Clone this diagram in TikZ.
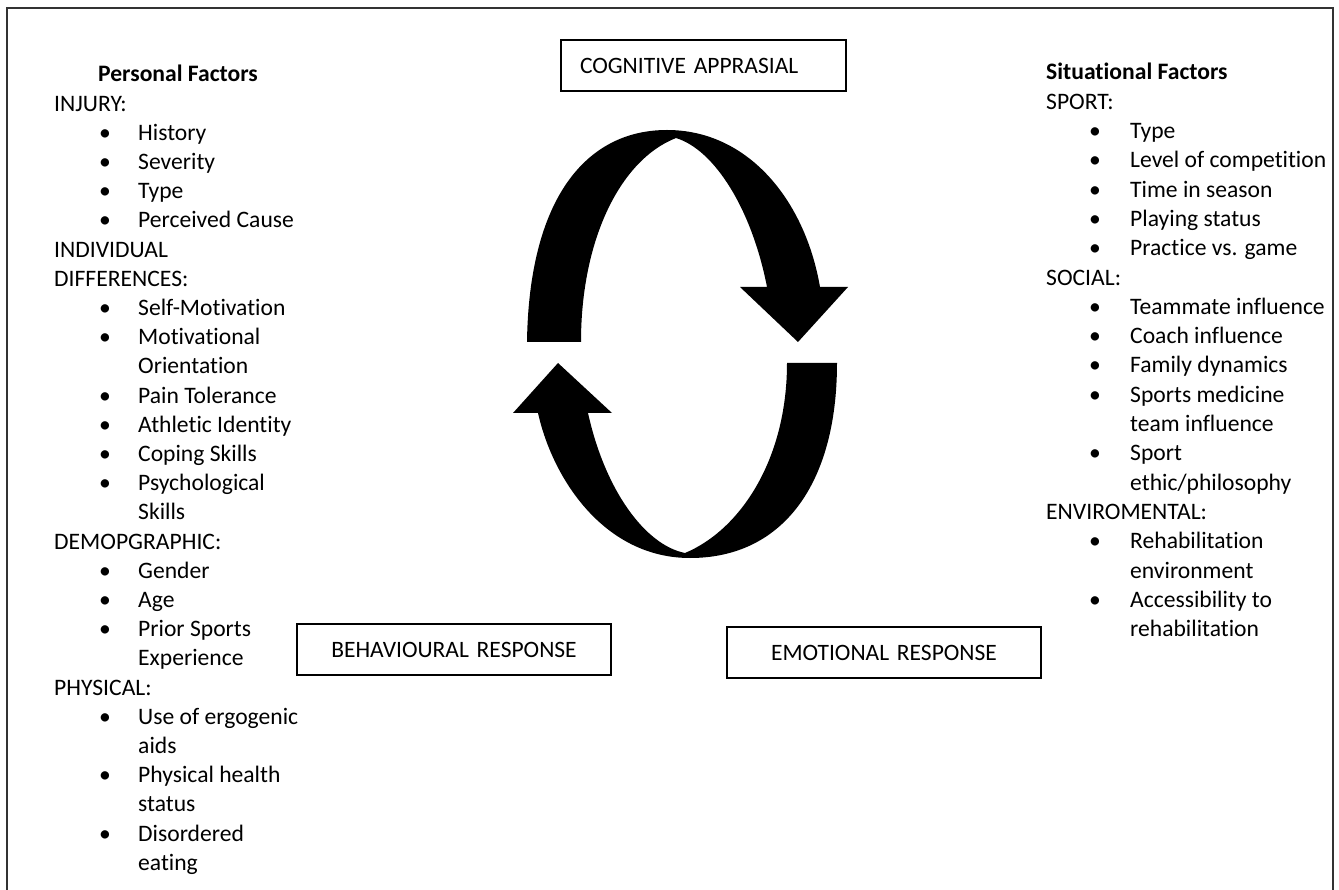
\documentclass[tikz,border=0pt]{standalone}
\usepackage{fontspec}
\setmainfont{Carlito}[Ligatures=NoCommon]
\usepackage{array}
\tikzset{
	frame/.style={line width=1.6pt, color=black!80},
	stagebox/.style={draw, line width=1.4pt, inner sep=0pt, minimum height=51pt, font=\fontsize{23.5}{27}\selectfont},
	factors/.style={anchor=base west, inner sep=0pt, font=\fontsize{23.6}{29.2}\selectfont},
	cyclearrow/.style={fill=black, draw=none},
}
\newcommand{\hd}[1]{\multicolumn{3}{@{}l@{}}{#1}}
\newcommand{\bl}{\textbullet}

\begin{document}
\begin{tikzpicture}[x=1pt, y=-1pt]
		%%%%% START %%%%%
		\useasboundingbox (0, 0) rectangle (1339, 890);
		
		\draw[frame] (7, 890) -- (7, 8) -- (1333, 8) -- (1333, 890);
		
		% stages
		\node[stagebox, text width=285pt, align=left] (cognitive) at (703.5, 65.5) {\hspace*{19pt}COGNITIVE APPRASIAL};
		\node[stagebox, text width=314pt, align=center] (behaviour) at (454, 649.5) {BEHAVIOURAL RESPONSE};
		\node[stagebox, text width=314pt, align=center] (emotion) at (884, 652.5) {EMOTIONAL RESPONSE};
		
		% cycle
		\fill[cyclearrow] (527, 342) .. controls (529, 200) and (585, 130) .. (667, 130)
			.. controls (748, 130) and (805, 200) .. (820, 287) -- (848, 287) -- (798, 342) -- (740, 287) -- (767, 287)
			.. controls (752, 210) and (715, 150) .. (676, 138)
			.. controls (620, 160) and (581, 240) .. (581, 342) -- cycle;
		\fill[cyclearrow] (837, 363) .. controls (837, 485) and (782, 558) .. (690, 558)
			.. controls (605, 558) and (553, 480) .. (538, 413) -- (513, 413) -- (558, 363) -- (612, 413) -- (588, 413)
			.. controls (605, 490) and (645, 545) .. (685, 553)
			.. controls (740, 530) and (787, 460) .. (787, 363) -- cycle;
		
		% personal factors
		\node[factors] (personal) at (54, 82) {\begin{tabular}[t]{@{}p{45pt}@{}p{39pt}@{}l@{}}
			\hd{\hspace*{44pt}\textbf{Personal Factors}}\\
			\hd{INJURY:}\\
			& \bl & History\\
			& \bl & Severity\\
			& \bl & Type\\
			& \bl & Perceived Cause\\
			\hd{INDIVIDUAL}\\
			\hd{DIFFERENCES:}\\
			& \bl & Self-Motivation\\
			& \bl & Motivational\\
			& & Orientation\\
			& \bl & Pain Tolerance\\
			& \bl & Athletic Identity\\
			& \bl & Coping Skills\\
			& \bl & Psychological\\
			& & Skills\\
			\hd{DEMOPGRAPHIC:}\\
			& \bl & Gender\\
			& \bl & Age\\
			& \bl & Prior Sports\\
			& & Experience\\
			\hd{PHYSICAL:}\\
			& \bl & Use of ergogenic\\
			& & aids\\
			& \bl & Physical health\\
			& & status\\
			& \bl & Disordered\\
			& & eating
		\end{tabular}};
		
		% situational factors
		\node[factors, font=\fontsize{23.6}{29.3}\selectfont] (situational) at (1046, 80) {\begin{tabular}[t]{@{}p{43pt}@{}p{41pt}@{}l@{}}
			\hd{\textbf{Situational Factors}}\\
			\hd{SPORT:}\\
			& \bl & Type\\
			& \bl & Level of competition\\
			& \bl & Time in season\\
			& \bl & Playing status\\
			& \bl & Practice vs. game\\
			\hd{SOCIAL:}\\
			& \bl & Teammate influence\\
			& \bl & Coach influence\\
			& \bl & Family dynamics\\
			& \bl & Sports medicine\\
			& & team influence\\
			& \bl & Sport\\
			& & ethic/philosophy\\
			\hd{ENVIROMENTAL:}\\
			& \bl & Rehabilitation\\
			& & environment\\
			& \bl & Accessibility to\\
			& & rehabilitation
		\end{tabular}};
		
		%%%%% END %%%%%
\end{tikzpicture}
\end{document}
